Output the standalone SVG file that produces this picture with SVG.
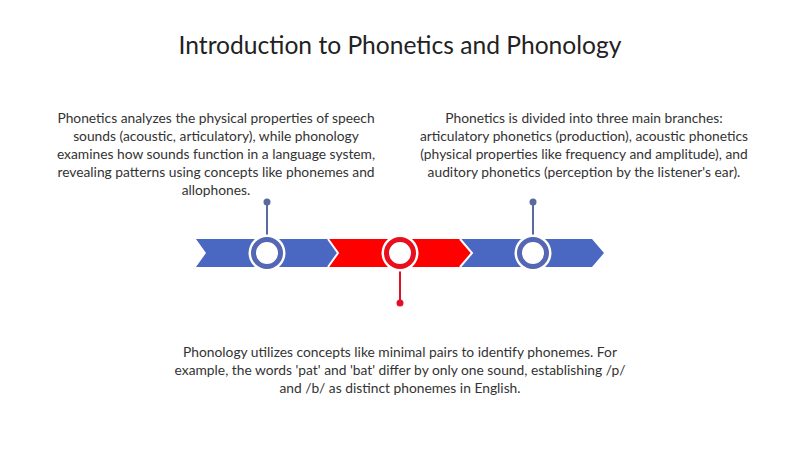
<svg xmlns="http://www.w3.org/2000/svg" width="800" height="449" viewBox="0 0 800 449">
<style>
text{font-family:Lato,"Open Sans","Liberation Sans",sans-serif;fill:#333;text-anchor:middle}
.t{font-size:24.6px;fill:#222}
.b{font-size:13.8px}
.blue{fill:#4A68C2}
.red{fill:#FF0000}
.ringb{fill:#fff;stroke:#5566B4;stroke-width:5}
.ringr{fill:#fff;stroke:#E8101C;stroke-width:5}
.halo{fill:#fff}
.pinb{stroke:#5A6A9E;stroke-width:2}
.pinr{stroke:#E0102A;stroke-width:2}
</style>
<rect width="800" height="449" fill="#fff"/>
<text class="t" x="400" y="54">Introduction to Phonetics and Phonology</text>
<g id="band">
<polygon class="blue" points="196,239 328,239 338,253 328,267 196,267 206,253"/>
<polygon class="red" points="328,239 460,239 472,253 460,267 328,267 338,253"/>
<polygon class="blue" points="460,239 592,239 604,253 592,267 460,267 472,253"/>
<polyline points="328,239 338,253 328,267" fill="none" stroke="#fff" stroke-width="2"/>
<polyline points="460,239 472,253 460,267" fill="none" stroke="#fff" stroke-width="2"/>
</g>
<g id="connectors">
<line class="pinb" x1="267" y1="202" x2="267" y2="236"/>
<circle cx="267" cy="202" r="3.5" fill="#5A6A9E"/>
<line class="pinr" x1="400" y1="270" x2="400" y2="303"/>
<circle cx="400" cy="303" r="3.5" fill="#E0102A"/>
<line class="pinb" x1="533" y1="202" x2="533" y2="236"/>
<circle cx="533" cy="202" r="3.5" fill="#5A6A9E"/>
</g>
<g id="node1">
<circle class="halo" cx="267" cy="253" r="18.5"/>
<circle class="ringb" cx="267" cy="253" r="13.5"/>
<text class="b" x="216" y="123">Phonetics analyzes the physical properties of speech</text>
<text class="b" x="216" y="141">sounds (acoustic, articulatory), while phonology</text>
<text class="b" x="216" y="159">examines how sounds function in a language system,</text>
<text class="b" x="216" y="177">revealing patterns using concepts like phonemes and</text>
<text class="b" x="216" y="195">allophones.</text>
</g>
<g id="node2">
<circle class="halo" cx="400" cy="253" r="18.5"/>
<circle class="ringr" cx="400" cy="253" r="13.5"/>
<text class="b" x="400" y="357">Phonology utilizes concepts like minimal pairs to identify phonemes. For</text>
<text class="b" x="400" y="375">example, the words 'pat' and 'bat' differ by only one sound, establishing /p/</text>
<text class="b" x="400" y="393">and /b/ as distinct phonemes in English.</text>
</g>
<g id="node3">
<circle class="halo" cx="533" cy="253" r="18.5"/>
<circle class="ringb" cx="533" cy="253" r="13.5"/>
<text class="b" x="584" y="123">Phonetics is divided into three main branches:</text>
<text class="b" x="584" y="141">articulatory phonetics (production), acoustic phonetics</text>
<text class="b" x="584" y="159">(physical properties like frequency and amplitude), and</text>
<text class="b" x="584" y="177">auditory phonetics (perception by the listener's ear).</text>
</g>
</svg>
